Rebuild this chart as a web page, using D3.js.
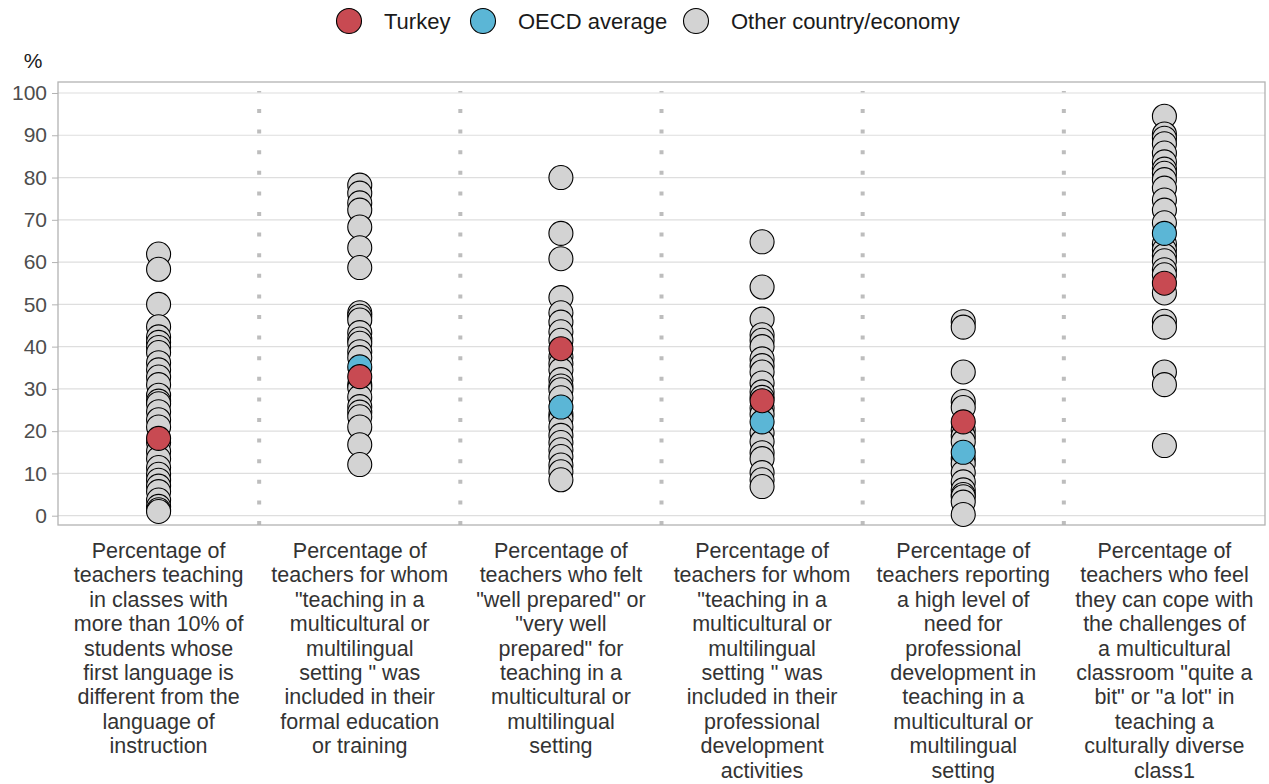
<!DOCTYPE html>
<html>
<head>
<meta charset="utf-8">
<script src="https://cdn.jsdelivr.net/npm/d3@7"></script>
<style>
  body { margin: 0; background: #fff; }
  text { font-family: "Liberation Sans", Arial, sans-serif; }
</style>
</head>
<body>
<div id="chart"></div>
<script>

/* categories (x axis), each label as its wrapped lines */
var categories = ["c1", "c2", "c3", "c4", "c5", "c6"];
var categoryLines = [
    ["Percentage of", "teachers teaching", "in classes with", "more than 10% of", "students whose", "first language is", "different from the", "language of", "instruction"],
    ["Percentage of", "teachers for whom", "\"teaching in a", "multicultural or", "multilingual", "setting \" was", "included in their", "formal education", "or training"],
    ["Percentage of", "teachers who felt", "\"well prepared\" or", "\"very well", "prepared\" for", "teaching in a", "multicultural or", "multilingual", "setting"],
    ["Percentage of", "teachers for whom", "\"teaching in a", "multicultural or", "multilingual", "setting \" was", "included in their", "professional", "development", "activities"],
    ["Percentage of", "teachers reporting", "a high level of", "need for", "professional", "development in", "teaching in a", "multicultural or", "multilingual", "setting"],
    ["Percentage of", "teachers who feel", "they can cope with", "the challenges of", "a multicultural", "classroom \"quite a", "bit\" or \"a lot\" in", "teaching a", "culturally diverse", "class1"]
];

var turkey = [18.3, 32.9, 39.5, 27.2, 22.2, 55.0];
var oecd = [null, 35.2, 25.7, 22.2, 15.0, 66.8];

/* other countries / economies, one list per category */
var others1 = [61.9, 58.3, 50.0, 44.7, 42.3, 41.0, 39.8, 38.6, 36.2, 34.5, 32.8, 31.0, 28.5, 27.1, 26.5, 24.6, 22.7, 21.0, 17.3, 15.2, 13.5, 11.4, 9.8, 8.4, 7.0, 5.7, 3.7, 2.2, 1.4, 1.0];
var others2 = [78.2, 76.3, 74.0, 72.3, 68.3, 63.4, 58.7, 48.0, 47.2, 46.3, 43.3, 41.8, 40.8, 38.8, 37.4, 31.0, 30.3, 28.1, 25.8, 24.5, 23.4, 21.0, 16.8, 12.1];
var others3 = [80.0, 66.8, 60.8, 51.6, 48.0, 45.8, 43.5, 41.5, 37.6, 36.0, 34.5, 32.2, 30.7, 29.8, 27.9, 24.0, 23.0, 21.0, 19.0, 17.3, 15.6, 14.0, 12.0, 10.4, 8.5];
var others4 = [64.8, 54.1, 46.5, 42.8, 41.5, 40.0, 37.1, 35.5, 34.0, 31.4, 29.3, 28.0, 25.5, 24.0, 19.6, 17.5, 14.9, 13.5, 10.2, 8.5, 6.9];
var others5 = [45.9, 44.6, 34.0, 27.0, 25.6, 20.3, 18.8, 17.5, 13.5, 12.3, 10.2, 8.0, 6.1, 5.0, 4.5, 3.2, 0.3];
var others6 = [94.5, 90.3, 89.3, 88.0, 85.8, 83.7, 82.0, 81.0, 79.5, 77.5, 74.7, 72.3, 69.3, 64.3, 62.9, 61.5, 60.3, 58.2, 57.0, 52.7, 46.0, 44.6, 34.0, 31.0, 16.6];
var others = [others1, others2, others3, others4, others5, others6];

var yTicks = [0, 10, 20, 30, 40, 50, 60, 70, 80, 90, 100];

var legendItems = [
    {name: "Turkey", color: "#c84a52"},
    {name: "OECD average", color: "#5bb6d6"},
    {name: "Other country/economy", color: "#d3d3d3"}
];

render();

function render() {

    var w = 1269, h = 784;
    var margin = {top: 82, right: 4, bottom: 259, left: 58};
    var width = w - margin.left - margin.right,
        height = h - margin.top - margin.bottom;
    var r = 12;

    var svg = d3.select("#chart").append("svg")
        .attr("width", w)
        .attr("height", h);

    var x = d3.scaleBand()
        .domain(categories)
        .range([margin.left, margin.left + width]);

    var y = d3.scaleLinear()
        .domain([-2.2, 102.6])
        .range([margin.top + height, margin.top]);

    /* gridlines */
    svg.append("g")
        .selectAll("line")
        .data(yTicks)
        .enter().append("line")
        .attr("x1", margin.left)
        .attr("x2", margin.left + width)
        .attr("y1", function (d) { return y(d); })
        .attr("y2", function (d) { return y(d); })
        .style("stroke", "#dedede")
        .style("stroke-width", 1.2);

    /* dotted category separators */
    svg.append("g")
        .selectAll("line")
        .data(categories.slice(1))
        .enter().append("line")
        .attr("x1", function (d) { return x(d); })
        .attr("x2", function (d) { return x(d); })
        .attr("y1", margin.top + height)
        .attr("y2", margin.top + 9)
        .style("stroke", "#bdbdbd")
        .style("stroke-width", 4)
        .style("stroke-dasharray", "4,16.6");

    /* plot border */
    svg.append("rect")
        .attr("x", margin.left)
        .attr("y", margin.top)
        .attr("width", width)
        .attr("height", height)
        .style("fill", "none")
        .style("stroke", "#b3b3b3")
        .style("stroke-width", 1.3);

    /* y axis */
    var yAxis = svg.append("g")
        .attr("transform", "translate(" + margin.left + ",0)")
        .call(d3.axisLeft(y).tickValues(yTicks).tickSize(6).tickPadding(5));
    yAxis.select(".domain").remove();
    yAxis.selectAll("line").style("stroke", "#b3b3b3");
    yAxis.selectAll("text")
        .style("font-size", "21px")
        .style("font-family", "'Liberation Sans', Arial, sans-serif")
        .style("fill", "#4d4d4d");

    svg.append("text")
        .attr("x", 33)
        .attr("y", 68)
        .attr("text-anchor", "middle")
        .style("font-size", "21px")
        .style("fill", "#1a1a1a")
        .text("%");

    /* x category labels */
    var labels = svg.append("g")
        .selectAll("text")
        .data(categories)
        .enter().append("text")
        .attr("text-anchor", "middle")
        .style("font-size", "21.5px")
        .style("fill", "#333333");

    labels.selectAll("tspan")
        .data(function (d, i) { return categoryLines[i]; })
        .enter().append("tspan")
        .attr("x", function () {
            var c = d3.select(this.parentNode).datum();
            return x(c) + x.bandwidth() / 2;
        })
        .attr("y", function (d, i) { return 558 + i * 24.4; })
        .text(function (d) { return d; });

    /* points */
    var pts = [];
    others.forEach(function (list, i) {
        list.forEach(function (v) {
            pts.push({cat: categories[i], value: v, color: legendItems[2].color});
        });
    });
    oecd.forEach(function (v, i) {
        if (v !== null) pts.push({cat: categories[i], value: v, color: legendItems[1].color});
    });
    turkey.forEach(function (v, i) {
        pts.push({cat: categories[i], value: v, color: legendItems[0].color});
    });

    svg.append("g")
        .selectAll("circle")
        .data(pts)
        .enter().append("circle")
        .attr("cx", function (d) { return x(d.cat) + x.bandwidth() / 2; })
        .attr("cy", function (d) { return y(d.value); })
        .attr("r", r)
        .style("fill", function (d) { return d.color; })
        .style("stroke", "#000")
        .style("stroke-width", 1.1);

    /* legend */
    var legendX = [349, 483, 696];
    var legend = svg.append("g")
        .selectAll("g")
        .data(legendItems)
        .enter().append("g")
        .attr("transform", function (d, i) { return "translate(" + legendX[i] + ",21)"; });

    legend.append("circle")
        .attr("r", 12.5)
        .style("fill", function (d) { return d.color; })
        .style("stroke", "#000")
        .style("stroke-width", 1.1);

    legend.append("text")
        .attr("x", 35)
        .attr("y", 8)
        .style("font-size", "22px")
        .style("fill", "#1a1a1a")
        .text(function (d) { return d.name; });
}

</script>
</body>
</html>
